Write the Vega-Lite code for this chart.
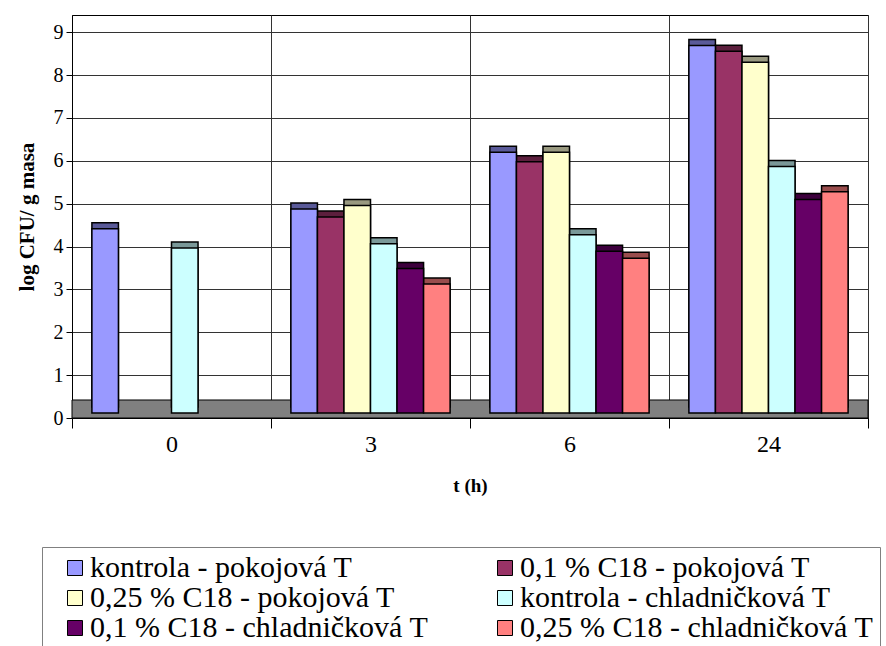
{
  "$schema": "https://vega.github.io/schema/vega-lite/v6.json",
  "width": 796,
  "height": 403,
  "autosize": "none",
  "padding": {"left": 72, "top": 15, "right": 18, "bottom": 228},
  "background": "white",
  "config": {
    "font": "Liberation Serif",
    "view": {"stroke": "black", "strokeWidth": 1},
    "axis": {"labelFont": "Liberation Serif", "titleFont": "Liberation Serif", "labelColor": "black", "titleColor": "black", "domainColor": "black", "tickColor": "black", "gridColor": "#333333", "gridWidth": 1},
    "legend": {"labelFont": "Liberation Serif", "titleFont": "Liberation Serif"}
  },
  "data": {
    "values": [
      {"t": "0", "series": "kontrola - pokojová T", "logcfu": 4.30},
      {"t": "0", "series": "kontrola - chladničková T", "logcfu": 3.85},
      {"t": "3", "series": "kontrola - pokojová T", "logcfu": 4.76},
      {"t": "3", "series": "0,1 % C18 - pokojová T", "logcfu": 4.57},
      {"t": "3", "series": "0,25 % C18 - pokojová T", "logcfu": 4.84},
      {"t": "3", "series": "kontrola - chladničková T", "logcfu": 3.95},
      {"t": "3", "series": "0,1 % C18 - chladničková T", "logcfu": 3.37},
      {"t": "3", "series": "0,25 % C18 - chladničková T", "logcfu": 3.01},
      {"t": "6", "series": "kontrola - pokojová T", "logcfu": 6.08},
      {"t": "6", "series": "0,1 % C18 - pokojová T", "logcfu": 5.86},
      {"t": "6", "series": "0,25 % C18 - pokojová T", "logcfu": 6.08},
      {"t": "6", "series": "kontrola - chladničková T", "logcfu": 4.16},
      {"t": "6", "series": "0,1 % C18 - chladničková T", "logcfu": 3.77},
      {"t": "6", "series": "0,25 % C18 - chladničková T", "logcfu": 3.61},
      {"t": "24", "series": "kontrola - pokojová T", "logcfu": 8.57},
      {"t": "24", "series": "0,1 % C18 - pokojová T", "logcfu": 8.44},
      {"t": "24", "series": "0,25 % C18 - pokojová T", "logcfu": 8.18},
      {"t": "24", "series": "kontrola - chladničková T", "logcfu": 5.75},
      {"t": "24", "series": "0,1 % C18 - chladničková T", "logcfu": 4.98},
      {"t": "24", "series": "0,25 % C18 - chladničková T", "logcfu": 5.16}
    ]
  },
  "encoding": {
    "x": {
      "field": "t", "type": "nominal", "sort": ["0", "3", "6", "24"],
      "scale": {"paddingInner": 0, "paddingOuter": 0},
      "axis": {
        "title": "t (h)", "titleFontSize": 19, "titleFontWeight": "bold", "titlePadding": 20,
        "labelAngle": 0, "labelFontSize": 24, "labelPadding": 4, "tickSize": 10,
        "tickBand": "extent", "grid": true, "zindex": 0
      }
    },
    "xOffset": {
      "field": "series", "type": "nominal",
      "scale": {"domain": ["kontrola - pokojová T", "0,1 % C18 - pokojová T", "0,25 % C18 - pokojová T", "kontrola - chladničková T", "0,1 % C18 - chladničková T", "0,25 % C18 - chladničková T"], "paddingInner": 0, "paddingOuter": 0.75}
    }
  },
  "layer": [
    {
      "data": {"values": [{}]},
      "mark": {"type": "rect", "fill": "#808080", "stroke": "black", "strokeWidth": 1},
      "encoding": {
        "x": null,
        "xOffset": null,
        "y": {"datum": 0, "type": "quantitative"},
        "y2": {"datum": 0.42}
      }
    },
    {
      "mark": {"type": "bar", "xOffset": 9, "x2Offset": 9, "yOffset": -11, "y2Offset": -11, "stroke": "black", "strokeWidth": 1.5},
      "encoding": {
        "y": {"field": "logcfu", "type": "quantitative"},
        "fill": {
          "field": "series", "type": "nominal", "legend": null,
          "scale": {"domain": ["0,25 % C18 - chladničková T", "0,1 % C18 - chladničková T", "kontrola - chladničková T", "0,25 % C18 - pokojová T", "0,1 % C18 - pokojová T", "kontrola - pokojová T"],
                    "range": ["#994d4d", "#3d003d", "#7a9999", "#999980", "#5c1f3d", "#5a5a99"]}
        }
      }
    },
    {
      "mark": {"type": "bar", "yOffset": -5, "y2Offset": -5, "stroke": "black", "strokeWidth": 1.5},
      "encoding": {
        "y": {
          "field": "logcfu", "type": "quantitative",
          "scale": {"domain": [0, 9.4], "nice": false},
          "axis": {
            "title": "log CFU/ g masa", "titleFontSize": 21, "titleFontWeight": "bold", "titlePadding": 16,
            "values": [0, 1, 2, 3, 4, 5, 6, 7, 8, 9], "labelFontSize": 20, "labelPadding": 3, "tickSize": 6,
            "grid": true, "zindex": 0
          }
        },
        "color": {
          "field": "series", "type": "nominal",
          "scale": {"domain": ["kontrola - pokojová T", "0,1 % C18 - pokojová T", "0,25 % C18 - pokojová T", "kontrola - chladničková T", "0,1 % C18 - chladničková T", "0,25 % C18 - chladničková T"],
                    "range": ["#9999ff", "#993366", "#ffffcc", "#ccffff", "#660066", "#ff8080"]},
          "legend": {
            "title": null, "orient": "none", "legendX": -30, "legendY": 532,
            "direction": "horizontal", "columns": 2, "columnPadding": 49, "rowPadding": -6,
            "symbolType": "square", "symbolSize": 225, "symbolStrokeColor": "black", "symbolStrokeWidth": 1,
            "symbolOffset": 12, "labelOffset": 0,
            "labelFontSize": 30, "labelColor": "black", "labelLimit": 600,
            "strokeColor": "#808080", "fillColor": "white", "padding": 6
          }
        }
      }
    }
  ]
}
